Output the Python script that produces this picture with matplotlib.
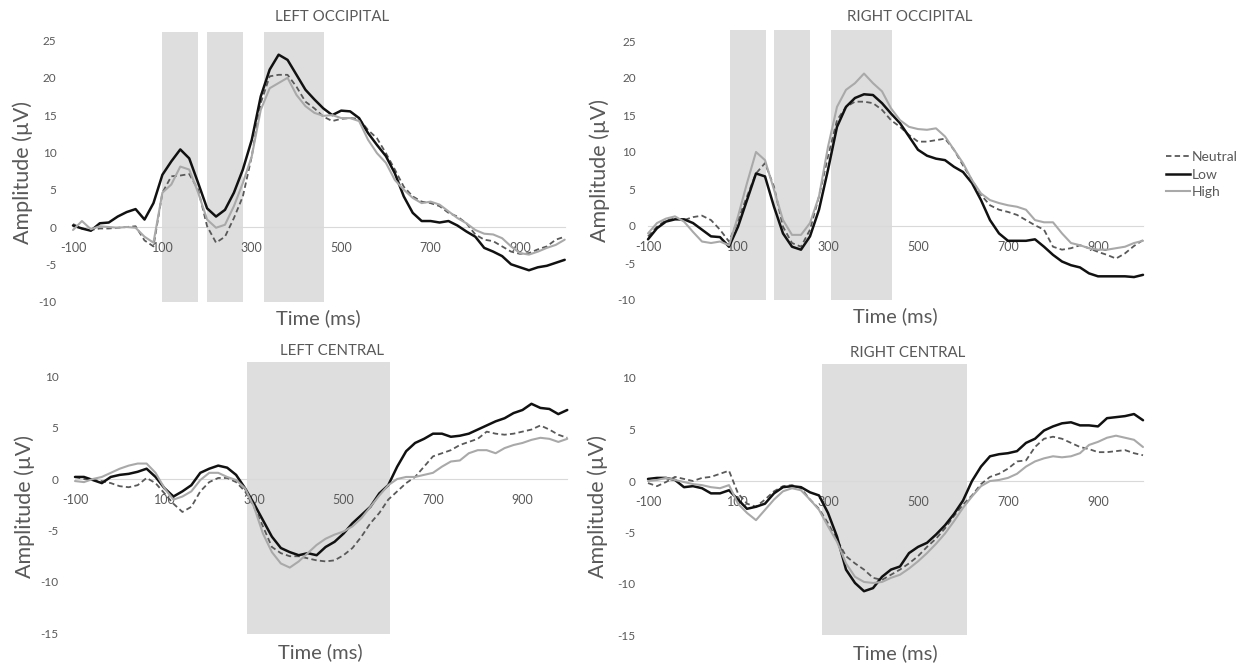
import numpy as np
import matplotlib
matplotlib.use("Agg")
import matplotlib.pyplot as plt
from matplotlib.lines import Line2D

plt.rcParams['font.family'] = ['Lato', 'DejaVu Sans']

# ---- data ---------------------------------------------------------------
times = np.arange(-100, 1001, 20)

conditions = ["Neutral", "Low", "High"]

left_occ_neutral = [0.4, -0.2, -0.4, -0.2, -0.2, -0.1, 0.0, 0.1, -1.8, -2.6, 4.6, 6.8, 6.9, 7.1, 5.0,
                    0.1, -2.1, -1.3, 1.2, 4.1, 9.5, 16.6, 20.2, 20.4, 20.4, 18.8, 16.8, 15.9, 14.8, 14.2,
                    14.5, 14.6, 14.5, 13.0, 11.9, 9.9, 7.7, 5.4, 4.1, 3.4, 3.2, 2.8, 1.9, 1.4, 0.5,
                    -1.0, -1.7, -1.9, -2.6, -3.3, -3.6, -3.5, -3.0, -2.6, -1.7, -1.3]
left_occ_low = [0.2, -0.2, -0.5, 0.5, 0.6, 1.4, 2.0, 2.4, 1.0, 3.2, 7.0, 8.8, 10.4, 9.2, 5.9,
                2.5, 1.4, 2.3, 4.6, 7.7, 11.7, 17.5, 21.1, 23.1, 22.4, 20.4, 18.4, 17.1, 15.9, 15.0,
                15.6, 15.5, 14.6, 12.6, 11.0, 9.5, 7.2, 4.1, 1.9, 0.8, 0.8, 0.6, 0.8, 0.2, -0.6,
                -1.3, -2.8, -3.3, -3.9, -5.0, -5.4, -5.8, -5.4, -5.2, -4.8, -4.4]
left_occ_high = [-0.4, 0.8, -0.3, 0.1, 0.0, -0.1, 0.0, -0.1, -1.3, -2.1, 4.6, 5.7, 8.1, 7.7, 4.6,
                 1.0, -0.1, 0.3, 2.8, 5.9, 9.5, 15.7, 18.6, 19.3, 20.0, 17.7, 16.2, 15.3, 14.9, 15.0,
                 14.6, 14.6, 14.2, 11.7, 9.9, 8.6, 6.3, 5.0, 3.9, 3.2, 3.4, 3.0, 2.1, 1.2, 0.5,
                 -0.4, -0.9, -1.0, -1.5, -2.6, -3.5, -3.7, -3.3, -2.8, -2.4, -1.7]

right_occ_neutral = [-1.4, -0.1, 0.8, 1.0, 0.8, 1.2, 1.4, 0.8, -0.5, -2.1, 0.8, 4.0, 7.1, 8.5, 5.3,
                     -0.1, -2.3, -2.8, -0.5, 4.0, 9.4, 14.3, 16.1, 16.8, 16.8, 16.6, 15.7, 14.3, 13.4, 12.3,
                     11.4, 11.4, 11.6, 11.8, 10.3, 8.2, 6.2, 4.2, 2.8, 2.2, 1.9, 1.5, 0.8, 0.1, -0.5,
                     -2.8, -3.2, -3.0, -2.6, -3.0, -3.5, -3.9, -4.4, -3.7, -2.7, -1.9]
right_occ_low = [-1.8, -0.3, 0.6, 0.9, 0.9, 0.4, -0.5, -1.4, -1.5, -2.8, -0.1, 3.5, 7.1, 6.7, 2.6,
                 -1.0, -2.8, -3.2, -1.4, 2.2, 7.6, 13.4, 16.1, 17.3, 17.8, 17.7, 16.6, 15.2, 13.9, 12.1,
                 10.3, 9.5, 9.1, 8.9, 8.0, 7.3, 5.8, 3.5, 0.8, -1.0, -2.0, -2.0, -2.0, -1.8, -2.8,
                 -3.9, -4.8, -5.3, -5.6, -6.4, -6.8, -6.8, -6.8, -6.8, -6.9, -6.6]
right_occ_high = [-1.0, 0.4, 1.0, 1.3, 0.6, -0.8, -2.1, -2.3, -2.1, -2.6, 1.3, 5.8, 10.0, 8.9, 4.9,
                  0.8, -1.2, -1.2, 0.4, 4.0, 10.7, 16.1, 18.4, 19.3, 20.6, 19.3, 18.2, 15.9, 14.3, 13.4,
                  13.1, 13.0, 13.2, 12.1, 10.3, 8.5, 6.2, 4.4, 3.5, 3.1, 2.8, 2.6, 2.2, 0.8, 0.5,
                  0.5, -1.0, -2.3, -2.6, -3.0, -3.2, -3.2, -3.0, -2.8, -2.3, -2.0]

left_cen_neutral = [0.2, 0.0, -0.1, -0.2, -0.4, -0.7, -0.8, -0.6, 0.1, -0.4, -1.4, -2.4, -3.2, -2.7, -1.2,
                    -0.3, 0.1, 0.1, -0.3, -1.2, -2.7, -4.6, -6.6, -7.2, -7.5, -7.5, -7.7, -7.9, -8.0, -7.9,
                    -7.4, -6.7, -5.6, -4.3, -3.3, -2.0, -1.2, -0.4, 0.2, 1.2, 2.2, 2.5, 2.8, 3.3, 3.6,
                    3.9, 4.6, 4.4, 4.3, 4.4, 4.6, 4.8, 5.2, 4.8, 4.3, 4.0]
left_cen_low = [0.2, 0.2, -0.1, -0.4, 0.2, 0.4, 0.5, 0.7, 1.0, 0.2, -0.9, -1.7, -1.2, -0.6, 0.6,
                1.0, 1.3, 1.1, 0.4, -0.9, -2.4, -4.0, -5.6, -6.7, -7.1, -7.4, -7.2, -7.4, -6.6, -6.1,
                -5.3, -4.3, -3.5, -2.7, -1.4, -0.6, 1.2, 2.7, 3.5, 3.9, 4.4, 4.4, 4.1, 4.2, 4.4,
                4.8, 5.2, 5.6, 5.9, 6.4, 6.7, 7.3, 6.9, 6.8, 6.3, 6.7]
left_cen_high = [-0.2, -0.3, 0.0, 0.2, 0.6, 1.0, 1.3, 1.5, 1.5, 0.6, -0.9, -2.0, -1.7, -1.2, -0.1,
                 0.6, 0.6, 0.2, -0.1, -0.9, -2.7, -5.3, -7.1, -8.2, -8.6, -8.0, -7.2, -6.4, -5.8, -5.4,
                 -5.1, -4.6, -3.8, -2.7, -1.6, -0.6, 0.0, 0.2, 0.2, 0.4, 0.6, 1.2, 1.7, 1.8, 2.5,
                 2.8, 2.8, 2.5, 3.0, 3.3, 3.5, 3.8, 4.0, 3.9, 3.6, 3.9]

right_cen_neutral = [-0.2, -0.5, -0.1, 0.4, 0.2, 0.0, 0.3, 0.4, 0.7, 1.0, -1.2, -2.2, -2.5, -1.8, -1.0,
                     -0.5, -0.4, -0.7, -1.8, -2.7, -4.1, -5.7, -7.3, -8.0, -8.6, -9.4, -9.6, -9.1, -8.6, -8.0,
                     -7.3, -6.4, -5.6, -4.6, -3.4, -2.3, -1.4, -0.3, 0.4, 0.7, 1.2, 1.9, 2.0, 3.3, 4.1,
                     4.3, 4.1, 3.7, 3.3, 3.1, 2.8, 2.8, 2.9, 3.0, 2.7, 2.5]
right_cen_low = [0.2, 0.3, 0.3, 0.1, -0.6, -0.5, -0.7, -1.2, -1.2, -0.9, -1.8, -2.7, -2.5, -2.2, -1.2,
                 -0.6, -0.5, -0.6, -1.1, -1.4, -3.1, -5.4, -8.6, -9.9, -10.7, -10.4, -9.3, -8.6, -8.3, -7.0,
                 -6.4, -6.0, -5.2, -4.3, -3.2, -1.9, 0.0, 1.4, 2.4, 2.6, 2.7, 2.9, 3.7, 4.1, 4.9,
                 5.3, 5.6, 5.7, 5.4, 5.4, 5.3, 6.1, 6.2, 6.3, 6.5, 5.9]
right_cen_high = [0.0, 0.1, 0.3, 0.1, -0.1, -0.3, -0.4, -0.6, -0.7, -0.4, -2.2, -3.1, -3.8, -2.8, -1.8,
                  -1.0, -0.7, -0.9, -1.8, -2.8, -4.4, -5.9, -8.0, -9.3, -9.8, -9.9, -9.8, -9.4, -9.1, -8.5,
                  -7.8, -7.0, -6.1, -5.1, -3.9, -2.6, -1.5, -0.5, 0.0, 0.1, 0.3, 0.7, 1.4, 1.9, 2.2,
                  2.4, 2.3, 2.4, 2.7, 3.5, 3.8, 4.2, 4.4, 4.2, 4.0, 3.3]

x_tick_values = [-100, 100, 300, 500, 700, 900]
occ_y_ticks = [-10, -5, 0, 5, 10, 15, 20, 25]
cen_y_ticks = [-15, -10, -5, 0, 5, 10]

left_occ_windows = [(100, 180), (200, 280), (327, 462)]
right_occ_windows = [(82, 162), (180, 260), (307, 442)]
left_cen_windows = [(284, 604)]
right_cen_windows = [(287, 609)]

# ---- styling ------------------------------------------------------------
W, H = 1247, 670
TEXT = "#595959"
SHADE = "#dedede"
styles = {
    "Neutral": dict(color="#595959", lw=1.3, ls=(0, (3.0, 1.8))),
    "Low": dict(color="#111111", lw=1.8, ls="-"),
    "High": dict(color="#a9a9a9", lw=1.5, ls="-"),
}

fig = plt.figure(figsize=(W / 100, H / 100), dpi=100)


def make_axes(x0, sx, y0, sy, xlim, ylim):
    """Axes whose -100 ms sits at pixel x0 and 0 µV at pixel y0 (from top)."""
    left = x0 + (xlim[0] + 100) * sx
    right = x0 + (xlim[1] + 100) * sx
    top = y0 - ylim[1] * sy
    bottom = y0 - ylim[0] * sy
    ax = fig.add_axes([left / W, 1 - bottom / H, (right - left) / W, (bottom - top) / H])
    ax.set_xlim(*xlim)
    ax.set_ylim(*ylim)
    return ax


def fig_text(px, py, s, **kw):
    fig.text(px / W, 1 - py / H, s, ha="center", va="center", color=TEXT, **kw)


panels = [
    dict(pos=(73, 0.447, 227, 7.46), ylim=(-10.5, 27.5), yt=occ_y_ticks,
         series=(left_occ_neutral, left_occ_low, left_occ_high),
         windows=left_occ_windows, span=(-10, 26.2), ypad=8,
         title=("LEFT OCCIPITAL", 332, 17), xl=(318, 318), yl=(23, 172)),
    dict(pos=(648, 0.45, 226, 7.4), ylim=(-10.5, 27.5), yt=occ_y_ticks,
         series=(right_occ_neutral, right_occ_low, right_occ_high),
         windows=right_occ_windows, span=(-10, 26.5), ypad=5,
         title=("RIGHT OCCIPITAL", 910, 17), xl=(895, 316), yl=(600, 171)),
    dict(pos=(75, 0.4475, 479, 10.3), ylim=(-15.5, 12.0), yt=cen_y_ticks,
         series=(left_cen_neutral, left_cen_low, left_cen_high),
         windows=left_cen_windows, span=(-15, 11.4), ypad=8,
         title=("LEFT CENTRAL", 332, 351), xl=(320, 652), yl=(25, 507)),
    dict(pos=(648, 0.45, 481, 10.3), ylim=(-15.5, 12.0), yt=cen_y_ticks,
         series=(right_cen_neutral, right_cen_low, right_cen_high),
         windows=right_cen_windows, span=(-15, 11.4), ypad=5,
         title=("RIGHT CENTRAL", 908, 353), xl=(895, 653), yl=(598, 507)),
]

for p in panels:
    ax = make_axes(*p["pos"], xlim=(-112, 1012), ylim=p["ylim"])
    ax.patch.set_alpha(0)
    for a, b in p["windows"]:
        ax.fill_between([a, b], p["span"][0], p["span"][1], color=SHADE, lw=0, zorder=1)

    for name, vals in zip(conditions, p["series"]):
        ax.plot(times, vals, zorder=3, solid_capstyle="round", **styles[name])

    for s in ("top", "right", "left"):
        ax.spines[s].set_visible(False)
    ax.spines["bottom"].set_position(("data", 0))
    ax.spines["bottom"].set_bounds(times[0], times[-1])
    ax.spines["bottom"].set_color("#d9d9d9")
    ax.spines["bottom"].set_linewidth(0.8)
    ax.spines["bottom"].set_zorder(2)

    ax.set_xticks(x_tick_values)
    ax.set_xticklabels([str(v) for v in x_tick_values])
    ax.set_yticks(p["yt"])
    ax.set_yticklabels([str(v) for v in p["yt"]])
    ax.tick_params(axis="x", length=0, pad=11, labelsize=9, labelcolor=TEXT)
    ax.tick_params(axis="y", length=0, pad=p["ypad"], labelsize=8.5, labelcolor=TEXT)

    t, tx, ty = p["title"]
    fig_text(tx, ty, t, fontsize=10.8)
    fig_text(*p["xl"], "Time (ms)", fontsize=14.5)
    fig_text(*p["yl"], "Amplitude (µV)", fontsize=15.5, rotation=90)

handles = [Line2D([], [], **styles[n]) for n in conditions]
fig.legend(handles, conditions, loc="upper left", bbox_to_anchor=(1166 / W, 1 - 151 / H),
           frameon=False, handlelength=1.7, handletextpad=0.15, labelspacing=0.4,
           fontsize=10, labelcolor=TEXT, borderaxespad=0, borderpad=0)

fig.savefig("out.png", dpi=100, facecolor="white")
